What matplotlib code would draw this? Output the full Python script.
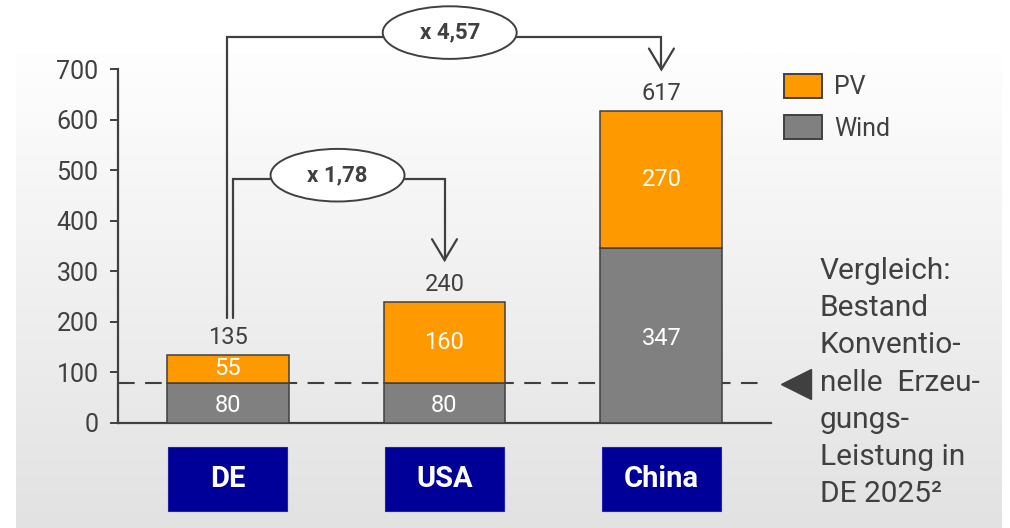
import numpy as np
import matplotlib
matplotlib.use("Agg")
import matplotlib.pyplot as plt
from matplotlib.patches import Rectangle, Ellipse, FancyArrowPatch, Patch
from matplotlib.path import Path
import matplotlib.transforms as mtransforms

plt.rcParams['font.family'] = ['Roboto', 'DejaVu Sans']

# ---- data ----
categories = ["DE", "USA", "China"]
wind = [80, 80, 347]
pv = [55, 160, 270]
totals = [135, 240, 617]
yticks = [0, 100, 200, 300, 400, 500, 600, 700]
ratio_usa = "x 1,78"
ratio_china = "x 4,57"
reference_level = 80
side_text = "Vergleich:\nBestand\nKonventio-\nnelle  Erzeu-\ngungs-\nLeistung in\nDE 2025\u00b2"

ORANGE = "#FF9900"
GRAY = "#808080"
DARK = "#404040"
BLUE = "#000099"

W, H = 1010, 528
fig = plt.figure(figsize=(W / 100, H / 100), dpi=100)
fig.patch.set_facecolor("white")

# gradient background panel
bg = fig.add_axes([16 / W, 0, (1002 - 16) / W, (528 - 53) / H], zorder=-10)
grad = np.linspace(254, 226, 256).reshape(-1, 1) / 255.0
bg.imshow(np.dstack([grad, grad, grad]), aspect="auto", extent=[0, 1, 0, 1])
bg.axis("off")

ax = fig.add_axes([118 / W, (528 - 423) / H, (771 - 118) / W, (423 - 69) / H])
ax.patch.set_alpha(0)

x = np.arange(len(categories))
bw = 0.562
ax.bar(x, wind, bw, color=GRAY, edgecolor=DARK, linewidth=1.1, zorder=3, label="Wind")
ax.bar(x, pv, bw, bottom=wind, color=ORANGE, edgecolor=DARK, linewidth=1.1, zorder=3, label="PV")

ax.set_xlim(-0.505, 2.505)
ax.set_ylim(0, 700)
ax.set_yticks(yticks)
ax.set_xticks([])
for s in ["top", "right"]:
    ax.spines[s].set_visible(False)
for s in ["left", "bottom"]:
    ax.spines[s].set_color(DARK)
    ax.spines[s].set_linewidth(1.6)
ax.tick_params(axis="y", length=6, width=1.4, color=DARK, pad=8, labelsize=18, labelcolor=DARK)

# segment labels
for i in range(len(categories)):
    ax.text(x[i], wind[i] / 2 - 6, str(wind[i]), ha="center", va="center",
            color="white", fontsize=17, zorder=5)
    ax.text(x[i], wind[i] + pv[i] / 2, str(pv[i]), ha="center", va="center",
            color="white", fontsize=17, zorder=5)
    ax.annotate(str(totals[i]), (x[i], totals[i]), xytext=(0, 8), textcoords="offset points",
                ha="center", va="baseline", fontsize=17, color=DARK)

# reference dashed line + triangle
ax.plot([-0.505, 2.49], [reference_level, reference_level], ls=(0, (8, 5)), color=DARK,
        lw=1.5, zorder=2, clip_on=False)
ax.plot([2.619], [reference_level - 2], marker="<", ms=22, color=DARK, clip_on=False, zorder=4)

# category boxes
tb = mtransforms.blended_transform_factory(ax.transData, ax.transAxes)
bh0, bh1 = -0.2486, -0.0678
for i, c in enumerate(categories):
    ax.add_patch(Rectangle((x[i] - 0.274, bh0), 0.548, bh1 - bh0, transform=tb,
                           facecolor=BLUE, edgecolor="#2222aa", lw=0.8, clip_on=False))
    ax.text(x[i], (bh0 + bh1) / 2, c, transform=tb, ha="center", va="center",
            color="white", fontsize=21, fontweight="bold")

# comparison connectors
def connector(xs, ys):
    p = Path(list(zip(xs, ys)))
    a = FancyArrowPatch(path=p, arrowstyle="->,head_length=0.75,head_width=0.45",
                        mutation_scale=20, color=DARK, lw=1.6, clip_on=False, zorder=6,
                        shrinkA=0, shrinkB=0, joinstyle="miter")
    ax.add_patch(a)

connector([x[0] - 0.004, x[0] - 0.004, x[2], x[2]], [208, 764, 764, 695])
connector([x[0] + 0.024, x[0] + 0.024, x[1], x[1]], [208, 482.5, 482.5, 318])

for (cx, cy, txt) in [(1.024, 772, ratio_china), (0.507, 490, ratio_usa)]:
    ax.add_patch(Ellipse((cx, cy), 0.6175, 104, facecolor="white", edgecolor=DARK,
                         lw=1.4, clip_on=False, zorder=7))
    ax.text(cx, cy, txt, ha="center", va="center", fontsize=16, fontweight="bold",
            color=DARK, zorder=8)

# legend
handles = [Patch(facecolor=ORANGE, edgecolor=DARK, lw=1.4, label="PV"),
           Patch(facecolor=GRAY, edgecolor=DARK, lw=1.4, label="Wind")]
leg = fig.legend(handles=handles, loc="upper left", bbox_to_anchor=(784 / W, 1 - 74 / H),
                 frameon=False, fontsize=18, handlelength=1.5, handleheight=1.1,
                 handletextpad=0.5, labelspacing=0.62, borderpad=0, borderaxespad=0)
for t in leg.get_texts():
    t.set_color(DARK)

# side text
fig.text(820 / W, 1 - 257 / H, side_text, ha="left", va="top", fontsize=21.5,
         color=DARK, linespacing=1.42)

fig.savefig("out.png", dpi=100)
